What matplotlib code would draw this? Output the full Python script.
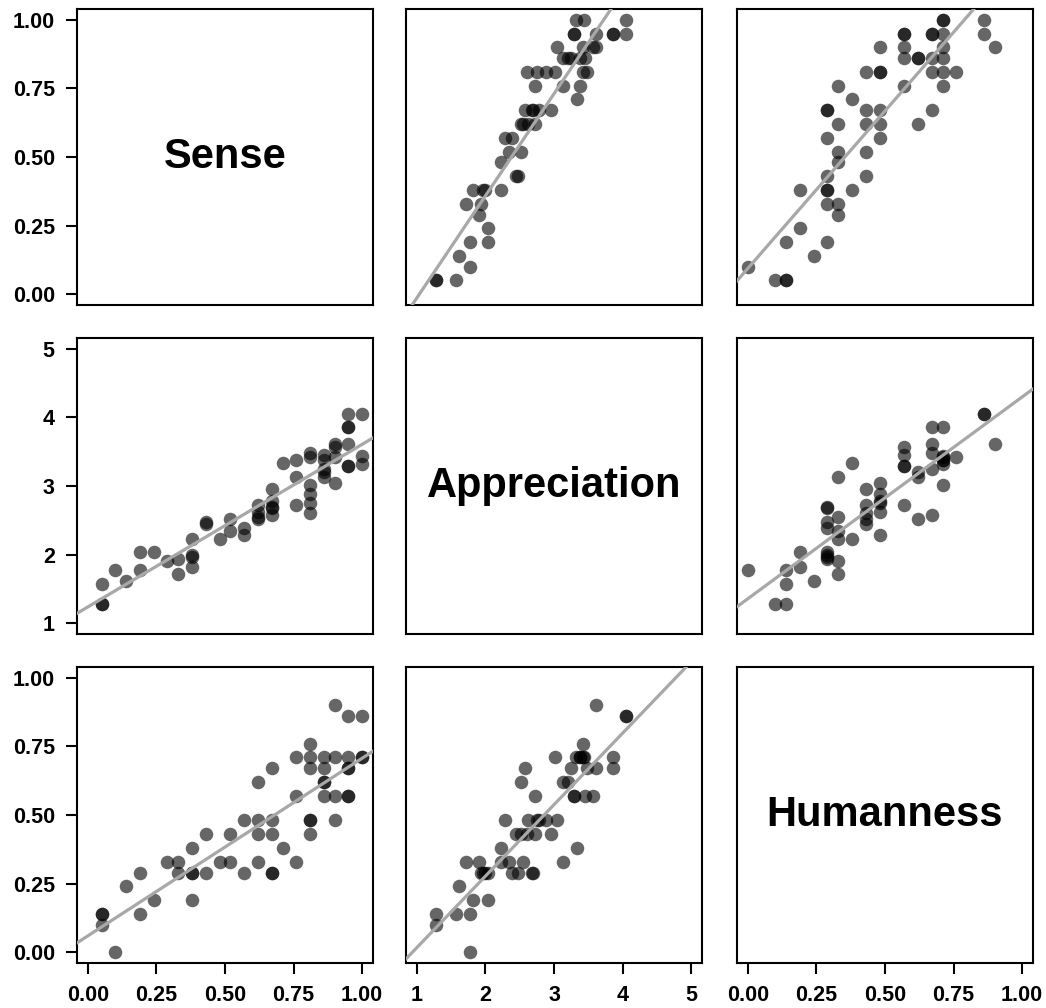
import numpy as np
import matplotlib
matplotlib.use("Agg")
import matplotlib.pyplot as plt

plt.rcParams['font.family'] = ['Liberation Sans', 'DejaVu Sans']
plt.rcParams['font.weight'] = 'bold'

# one entry per respondent
sense = [0.05, 0.05, 0.05, 0.10, 0.14, 0.19, 0.19, 0.24, 0.29, 0.33,
         0.33, 0.38, 0.38, 0.38, 0.38, 0.43, 0.43, 0.48, 0.52, 0.52,
         0.57, 0.57, 0.62, 0.62, 0.62, 0.62, 0.67, 0.67, 0.67, 0.67,
         0.67, 0.71, 0.76, 0.76, 0.76, 0.81, 0.81, 0.81, 0.81, 0.81,
         0.81, 0.86, 0.86, 0.86, 0.86, 0.86, 0.90, 0.90, 0.90, 0.90,
         0.95, 0.95, 0.95, 0.95, 0.95, 0.95, 1.00, 1.00, 1.00]
humanness = [0.14, 0.14, 0.10, 0.00, 0.24, 0.29, 0.14, 0.19, 0.33, 0.33,
             0.29, 0.38, 0.29, 0.29, 0.19, 0.43, 0.29, 0.33, 0.43, 0.33,
             0.48, 0.29, 0.62, 0.48, 0.43, 0.33, 0.67, 0.48, 0.43, 0.29,
             0.29, 0.38, 0.71, 0.57, 0.33, 0.76, 0.71, 0.67, 0.48, 0.48,
             0.43, 0.71, 0.67, 0.62, 0.62, 0.57, 0.90, 0.71, 0.57, 0.48,
             0.86, 0.71, 0.67, 0.67, 0.57, 0.57, 0.86, 0.71, 0.71]
appreciation = [1.57, 1.28, 1.28, 1.77, 1.62, 2.04, 1.77, 2.04, 1.91, 1.72,
                1.94, 2.23, 2.00, 1.97, 1.82, 2.45, 2.48, 2.23, 2.52, 2.35,
                2.29, 2.38, 2.52, 2.62, 2.72, 2.55, 2.57, 2.78, 2.95, 2.70,
                2.68, 3.33, 3.38, 2.72, 3.13, 3.43, 3.01, 3.48, 2.89, 2.75,
                2.61, 3.38, 3.25, 3.13, 3.20, 3.45, 3.62, 3.43, 3.57, 3.04,
                4.05, 3.86, 3.86, 3.62, 3.29, 3.29, 4.05, 3.44, 3.32]

names = ['Sense', 'Appreciation', 'Humanness']
values = [sense, appreciation, humanness]
limits = [(-0.04, 1.04), (0.84, 5.16), (-0.04, 1.04)]
ticks = [[0, 0.25, 0.5, 0.75, 1.0], [1, 2, 3, 4, 5], [0, 0.25, 0.5, 0.75, 1.0]]
ticklabels = [['0.00', '0.25', '0.50', '0.75', '1.00'],
              ['1', '2', '3', '4', '5'],
              ['0.00', '0.25', '0.50', '0.75', '1.00']]

W, H = 1046, 1008
fig = plt.figure(figsize=(W / 100, H / 100), dpi=100)

col_left = [77, 406, 737]
row_top = [9, 338, 667]
size = 296

for i in range(3):
    for j in range(3):
        ax = fig.add_axes([col_left[j] / W, 1 - (row_top[i] + size) / H,
                           size / W, size / H])
        for s in ax.spines.values():
            s.set_linewidth(1.5)
        ax.set_xlim(limits[j])
        ax.set_ylim(limits[i])
        ax.tick_params(width=1.5, length=8, labelsize=15.5)
        ax.tick_params(axis='y', pad=8)
        ax.tick_params(axis='x', pad=8)
        if j == 0:
            ax.set_yticks(ticks[i], ticklabels[i])
        else:
            ax.set_yticks([])
        if i == 2:
            ax.set_xticks(ticks[j], ticklabels[j])
        else:
            ax.set_xticks([])
        for lab in ax.get_xticklabels() + ax.get_yticklabels():
            lab.set_fontweight('bold')

        if i == j:
            ax.text(0.5, 0.5, names[i], transform=ax.transAxes, ha='center',
                    va='center', fontsize=30, fontweight='bold')
            continue

        x = np.array(values[j])
        y = np.array(values[i])
        ax.scatter(x, y, s=95, color='black', alpha=0.6, linewidths=0, zorder=2)
        m, b = np.polyfit(x, y, 1)
        ax.axline((0, b), slope=m, color='#a8a8a8', linewidth=2.3, zorder=3)

fig.savefig('out.png', dpi=100)
